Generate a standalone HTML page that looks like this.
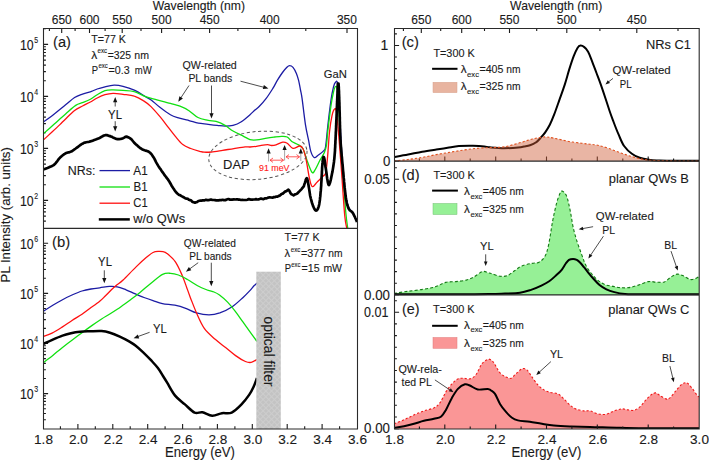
<!DOCTYPE html>
<html><head><meta charset="utf-8"><style>
html,body{margin:0;padding:0;background:#fff;}
svg{display:block;font-family:"Liberation Sans", sans-serif;}
</style></head><body>
<svg width="709" height="461" viewBox="0 0 709 461">
<defs><pattern id="hatch" width="4" height="4" patternUnits="userSpaceOnUse" patternTransform="rotate(45)"><rect width="4" height="4" fill="#c3c3c3"/><rect width="1" height="4" fill="#cdcdcd"/><rect width="4" height="1" fill="#cdcdcd"/></pattern><clipPath id="cA"><rect x="43" y="28" width="314" height="200"/></clipPath><clipPath id="cB"><rect x="43" y="228" width="314" height="201"/></clipPath><clipPath id="cR"><rect x="394" y="28" width="305" height="401"/></clipPath></defs>
<rect width="709" height="461" fill="#fff"/>
<path d="M60.4,429 L60.4,426.3 M77.9,429 L77.9,424.1 M95.3,429 L95.3,426.3 M112.8,429 L112.8,424.1 M130.2,429 L130.2,426.3 M147.7,429 L147.7,424.1 M165.1,429 L165.1,426.3 M182.6,429 L182.6,424.1 M200,429 L200,426.3 M217.4,429 L217.4,424.1 M234.9,429 L234.9,426.3 M252.3,429 L252.3,424.1 M269.8,429 L269.8,426.3 M287.2,429 L287.2,424.1 M304.7,429 L304.7,426.3 M322.1,429 L322.1,424.1 M339.6,429 L339.6,426.3 M347,28.5 L347,33.1 M305.8,28.5 L305.8,30.9 M269.7,28.5 L269.7,33.1 M237.9,28.5 L237.9,30.9 M209.6,28.5 L209.6,33.1 M184.3,28.5 L184.3,30.9 M161.6,28.5 L161.6,33.1 M141,28.5 L141,30.9 M122.2,28.5 L122.2,33.1 M105.1,28.5 L105.1,30.9 M89.5,28.5 L89.5,33.1 M75.1,28.5 L75.1,30.9 M61.7,28.5 L61.7,33.1 M49.4,28.5 L49.4,30.9 M43.5,221.1 L45.9,221.1 M43.5,216.1 L45.9,216.1 M43.5,211.9 L45.9,211.9 M43.5,208.5 L45.9,208.5 M43.5,205.4 L45.9,205.4 M43.5,202.8 L45.9,202.8 M43.5,200.4 L48.1,200.4 M43.5,184.7 L45.9,184.7 M43.5,175.6 L45.9,175.6 M43.5,169.1 L45.9,169.1 M43.5,164.1 L45.9,164.1 M43.5,159.9 L45.9,159.9 M43.5,156.5 L45.9,156.5 M43.5,153.4 L45.9,153.4 M43.5,150.8 L45.9,150.8 M43.5,148.4 L48.1,148.4 M43.5,132.7 L45.9,132.7 M43.5,123.6 L45.9,123.6 M43.5,117.1 L45.9,117.1 M43.5,112.1 L45.9,112.1 M43.5,107.9 L45.9,107.9 M43.5,104.5 L45.9,104.5 M43.5,101.4 L45.9,101.4 M43.5,98.8 L45.9,98.8 M43.5,96.4 L48.1,96.4 M43.5,80.7 L45.9,80.7 M43.5,71.6 L45.9,71.6 M43.5,65.1 L45.9,65.1 M43.5,60.1 L45.9,60.1 M43.5,55.9 L45.9,55.9 M43.5,52.5 L45.9,52.5 M43.5,49.4 L45.9,49.4 M43.5,46.8 L45.9,46.8 M43.5,44.4 L48.1,44.4 M43.5,28.7 L45.9,28.7 M43.5,419.8 L45.9,419.8 M43.5,413.5 L45.9,413.5 M43.5,408.7 L45.9,408.7 M43.5,404.7 L45.9,404.7 M43.5,401.4 L45.9,401.4 M43.5,398.5 L45.9,398.5 M43.5,395.9 L45.9,395.9 M43.5,393.6 L48.1,393.6 M43.5,378.5 L45.9,378.5 M43.5,369.7 L45.9,369.7 M43.5,363.4 L45.9,363.4 M43.5,358.6 L45.9,358.6 M43.5,354.6 L45.9,354.6 M43.5,351.3 L45.9,351.3 M43.5,348.4 L45.9,348.4 M43.5,345.8 L45.9,345.8 M43.5,343.5 L48.1,343.5 M43.5,328.4 L45.9,328.4 M43.5,319.6 L45.9,319.6 M43.5,313.3 L45.9,313.3 M43.5,308.5 L45.9,308.5 M43.5,304.5 L45.9,304.5 M43.5,301.2 L45.9,301.2 M43.5,298.3 L45.9,298.3 M43.5,295.7 L45.9,295.7 M43.5,293.4 L48.1,293.4 M43.5,278.3 L45.9,278.3 M43.5,269.5 L45.9,269.5 M43.5,263.2 L45.9,263.2 M43.5,258.4 L45.9,258.4 M43.5,254.4 L45.9,254.4 M43.5,251.1 L45.9,251.1 M43.5,248.2 L45.9,248.2 M43.5,245.6 L45.9,245.6 M43.5,243.3 L48.1,243.3 M419.4,161 L419.4,158.6 M444.8,161 L444.8,156.4 M470.2,161 L470.2,158.6 M495.7,161 L495.7,156.4 M521.1,161 L521.1,158.6 M546.5,161 L546.5,156.4 M571.9,161 L571.9,158.6 M597.3,161 L597.3,156.4 M622.8,161 L622.8,158.6 M648.2,161 L648.2,156.4 M673.6,161 L673.6,158.6 M419.4,295 L419.4,292.6 M444.8,295 L444.8,290.4 M470.2,295 L470.2,292.6 M495.7,295 L495.7,290.4 M521.1,295 L521.1,292.6 M546.5,295 L546.5,290.4 M571.9,295 L571.9,292.6 M597.3,295 L597.3,290.4 M622.8,295 L622.8,292.6 M648.2,295 L648.2,290.4 M673.6,295 L673.6,292.6 M419.4,429 L419.4,426.6 M444.8,429 L444.8,424.4 M470.2,429 L470.2,426.6 M495.7,429 L495.7,424.4 M521.1,429 L521.1,426.6 M546.5,429 L546.5,424.4 M571.9,429 L571.9,426.6 M597.3,429 L597.3,424.4 M622.8,429 L622.8,426.6 M648.2,429 L648.2,424.4 M673.6,429 L673.6,426.6 M678,28.5 L678,30.9 M636.8,28.5 L636.8,33.1 M599.9,28.5 L599.9,30.9 M566.8,28.5 L566.8,33.1 M536.7,28.5 L536.7,30.9 M509.5,28.5 L509.5,33.1 M484.5,28.5 L484.5,30.9 M461.7,28.5 L461.7,33.1 M440.7,28.5 L440.7,30.9 M421.3,28.5 L421.3,33.1 M403.4,28.5 L403.4,30.9 M394.5,161 L399.1,161 M394.5,149.4 L396.9,149.4 M394.5,137.9 L396.9,137.9 M394.5,126.3 L396.9,126.3 M394.5,114.8 L396.9,114.8 M394.5,103.2 L396.9,103.2 M394.5,91.7 L396.9,91.7 M394.5,80.1 L396.9,80.1 M394.5,68.6 L396.9,68.6 M394.5,57 L396.9,57 M394.5,45.5 L399.1,45.5 M394.5,33.9 L396.9,33.9 M394.5,294.7 L399.1,294.7 M394.5,283.2 L396.9,283.2 M394.5,271.6 L396.9,271.6 M394.5,260.1 L396.9,260.1 M394.5,248.5 L396.9,248.5 M394.5,237 L396.9,237 M394.5,225.5 L396.9,225.5 M394.5,213.9 L396.9,213.9 M394.5,202.4 L396.9,202.4 M394.5,190.8 L396.9,190.8 M394.5,179.3 L399.1,179.3 M394.5,167.8 L396.9,167.8 M394.5,428.6 L399.1,428.6 M394.5,417 L396.9,417 M394.5,405.3 L396.9,405.3 M394.5,393.7 L396.9,393.7 M394.5,382.1 L396.9,382.1 M394.5,370.5 L396.9,370.5 M394.5,358.8 L396.9,358.8 M394.5,347.2 L396.9,347.2 M394.5,335.6 L396.9,335.6 M394.5,323.9 L396.9,323.9 M394.5,312.3 L399.1,312.3 M394.5,300.7 L396.9,300.7" stroke="#1a1a1a" stroke-width="1.1" fill="none"/>
<g clip-path="url(#cR)">
<path d="M394,157 C396.4,156.6 403.4,155.5 408.1,154.6 C412.8,153.7 417.5,152.5 422.2,151.7 C426.9,150.9 432.1,150.2 436.3,149.6 C440.5,148.9 443.8,148.4 447.6,147.8 C451.4,147.2 454.7,146.4 458.9,146.1 C463.1,145.8 468.8,145.7 473,145.8 C477.2,145.9 481.5,146.2 484.3,146.5 C487.1,146.8 486.7,147 490,147.3 C493.3,147.6 499.4,148.2 504.1,148.2 C508.8,148.2 514.9,147.8 518.2,147.5 C521.5,147.2 522,147 524,146.6 C526,146.2 528,146 530,145.3 C532,144.6 534.3,143.6 536.1,142.3 C537.9,141.1 539.1,139.5 540.6,137.8 C542.1,136.2 543.7,134.6 545.2,132.4 C546.7,130.2 548.3,127.8 549.8,124.8 C551.3,121.8 552.8,118.1 554.3,114.2 C555.8,110.3 557.2,106.2 558.9,101.3 C560.6,96.4 562.9,90.3 564.6,85.1 C566.3,79.9 567.6,74.7 569.1,69.9 C570.6,65.1 572.3,59.9 573.7,56.2 C575.1,52.5 576.4,49.7 577.5,47.9 C578.6,46.1 579.4,45.7 580.5,45.6 C581.6,45.5 583,46.1 584.3,47.1 C585.6,48.1 586.8,49.4 588.1,51.7 C589.4,54 590.5,57.2 591.9,60.8 C593.3,64.3 595,69 596.5,73 C598,77 599.5,80.8 601,85.1 C602.5,89.4 604.2,94.5 605.6,98.8 C607,103.1 608.3,107.1 609.6,111 C610.9,114.9 612.1,118 613.6,122 C615.1,126 617.1,131.2 618.9,135.2 C620.6,139.2 621.9,142.9 624.1,146 C626.3,149.1 629.3,151.9 631.9,153.8 C634.5,155.8 636.9,156.7 639.7,157.7 C642.6,158.7 645.6,159.2 649,159.7 C652.4,160.2 651.5,160.3 659.8,160.5 C668.1,160.7 692.5,160.8 699,160.8" fill="none" stroke="#000" stroke-width="2" stroke-linejoin="round"/>
<path d="M394,160.9 C396.4,160.7 403.4,160.1 408.1,159.5 C412.8,158.9 417.5,158.2 422.2,157.4 C426.9,156.6 431.6,155.5 436.3,154.6 C441,153.7 445.7,153 450.4,152.2 C455.1,151.4 459.8,150.6 464.5,149.9 C469.2,149.2 474,148.6 478.6,148.2 C483.2,147.8 487.8,147.7 492,147.5 C496.2,147.3 499.7,147.5 504.1,146.8 C508.5,146.1 513.5,144.6 518.2,143.3 C522.9,142 527.8,140.1 532.3,139 C536.8,137.9 541.5,137.1 545,136.9 C548.5,136.8 549.7,137.4 553.5,138.1 C557.3,138.8 562.9,140.3 567.6,141.2 C572.3,142.1 578,142.8 581.7,143.3 C585.4,143.8 587.3,143.9 590,144.2 C592.7,144.5 594.7,144.6 597.8,145.3 C600.9,146 604.7,147.1 608.6,148.4 C612.5,149.7 617.1,151.6 621,153 C624.9,154.4 628.3,155.6 631.9,156.6 C635.5,157.6 639.4,158.6 642.8,159.2 C646.2,159.8 647.6,160 652.1,160.3 C656.6,160.6 662.2,160.8 670,160.9 C677.8,161 694.2,161 699,161 L699,161 L394,161 Z" fill="#cf5a35" fill-opacity="0.45" stroke="none"/>
<path d="M394,160.9 C396.4,160.7 403.4,160.1 408.1,159.5 C412.8,158.9 417.5,158.2 422.2,157.4 C426.9,156.6 431.6,155.5 436.3,154.6 C441,153.7 445.7,153 450.4,152.2 C455.1,151.4 459.8,150.6 464.5,149.9 C469.2,149.2 474,148.6 478.6,148.2 C483.2,147.8 487.8,147.7 492,147.5 C496.2,147.3 499.7,147.5 504.1,146.8 C508.5,146.1 513.5,144.6 518.2,143.3 C522.9,142 527.8,140.1 532.3,139 C536.8,137.9 541.5,137.1 545,136.9 C548.5,136.8 549.7,137.4 553.5,138.1 C557.3,138.8 562.9,140.3 567.6,141.2 C572.3,142.1 578,142.8 581.7,143.3 C585.4,143.8 587.3,143.9 590,144.2 C592.7,144.5 594.7,144.6 597.8,145.3 C600.9,146 604.7,147.1 608.6,148.4 C612.5,149.7 617.1,151.6 621,153 C624.9,154.4 628.3,155.6 631.9,156.6 C635.5,157.6 639.4,158.6 642.8,159.2 C646.2,159.8 647.6,160 652.1,160.3 C656.6,160.6 662.2,160.8 670,160.9 C677.8,161 694.2,161 699,161" fill="none" stroke="#e0501e" stroke-width="1.1" stroke-dasharray="2.2,2"/>
<path d="M394,293.4 C396.4,293 403.8,291.9 408.7,291.2 C413.6,290.5 419.1,290 423.5,289.3 C427.9,288.6 431.6,288 435.3,286.8 C439,285.6 442.2,283.3 445.6,282.4 C449,281.5 452.4,282 455.9,281.6 C459.3,281.2 463.4,280.8 466.3,280.1 C469.2,279.4 470.9,278.6 473.6,277.2 C476.3,275.8 480,272.3 482.5,271.6 C485,270.9 486.8,272.4 488.4,272.8 C490,273.2 490.1,273.2 492,273.8 C493.9,274.4 497.3,275.9 499.8,276.2 C502.3,276.5 504.8,276.6 507.2,275.7 C509.6,274.8 512,272.4 514.5,270.8 C517,269.2 519,267.1 521.9,265.9 C524.8,264.7 528.9,264 531.7,263.4 C534.6,262.8 536.8,263.4 539,262.2 C541.2,261 543.5,259.2 545.1,256.1 C546.7,253 547.6,249.5 548.8,243.8 C550,238.1 551.3,228.3 552.5,221.8 C553.7,215.3 555,209.3 556.2,204.6 C557.4,199.9 558.9,195.8 559.9,193.6 C560.9,191.3 561.3,190.9 562.3,191.1 C563.3,191.3 565,193 566,194.8 C567,196.7 567.6,198.9 568.4,202.2 C569.2,205.5 570.1,210.1 570.9,214.4 C571.7,218.7 572.3,223.4 573.3,227.9 C574.3,232.4 575.7,237.2 577,241.4 C578.3,245.6 579.9,249.5 581.1,253 C582.4,256.5 583.4,259.5 584.5,262.2 C585.6,264.9 586.6,267 588,269.1 C589.4,271.2 590.9,273 592.6,274.9 C594.3,276.8 596.2,279 598.3,280.6 C600.4,282.2 602.7,283.7 605.2,284.7 C607.7,285.7 610.8,285.9 613.3,286.4 C615.8,286.9 617.4,287.4 620,287.6 C622.6,287.8 625.7,288 628.8,287.6 C631.9,287.2 635.2,286.1 638.5,285.1 C641.8,284.1 645.3,282.1 648.3,281.6 C651.3,281.1 653.7,282.1 656.4,282.2 C659.1,282.2 662.1,282.8 664.5,281.9 C666.9,281 668.8,278.3 671,277 C673.2,275.7 675.3,274.2 677.5,274.1 C679.7,274 681.9,275.3 684,276.2 C686.1,277.1 688.5,279.1 690.4,279.5 C692.3,279.9 693.9,279.2 695.3,278.7 C696.7,278.2 698.4,276.9 699,276.5 L699,295 L394,295 Z" fill="#96f096" stroke="none"/>
<path d="M394,293.4 C396.4,293 403.8,291.9 408.7,291.2 C413.6,290.5 419.1,290 423.5,289.3 C427.9,288.6 431.6,288 435.3,286.8 C439,285.6 442.2,283.3 445.6,282.4 C449,281.5 452.4,282 455.9,281.6 C459.3,281.2 463.4,280.8 466.3,280.1 C469.2,279.4 470.9,278.6 473.6,277.2 C476.3,275.8 480,272.3 482.5,271.6 C485,270.9 486.8,272.4 488.4,272.8 C490,273.2 490.1,273.2 492,273.8 C493.9,274.4 497.3,275.9 499.8,276.2 C502.3,276.5 504.8,276.6 507.2,275.7 C509.6,274.8 512,272.4 514.5,270.8 C517,269.2 519,267.1 521.9,265.9 C524.8,264.7 528.9,264 531.7,263.4 C534.6,262.8 536.8,263.4 539,262.2 C541.2,261 543.5,259.2 545.1,256.1 C546.7,253 547.6,249.5 548.8,243.8 C550,238.1 551.3,228.3 552.5,221.8 C553.7,215.3 555,209.3 556.2,204.6 C557.4,199.9 558.9,195.8 559.9,193.6 C560.9,191.3 561.3,190.9 562.3,191.1 C563.3,191.3 565,193 566,194.8 C567,196.7 567.6,198.9 568.4,202.2 C569.2,205.5 570.1,210.1 570.9,214.4 C571.7,218.7 572.3,223.4 573.3,227.9 C574.3,232.4 575.7,237.2 577,241.4 C578.3,245.6 579.9,249.5 581.1,253 C582.4,256.5 583.4,259.5 584.5,262.2 C585.6,264.9 586.6,267 588,269.1 C589.4,271.2 590.9,273 592.6,274.9 C594.3,276.8 596.2,279 598.3,280.6 C600.4,282.2 602.7,283.7 605.2,284.7 C607.7,285.7 610.8,285.9 613.3,286.4 C615.8,286.9 617.4,287.4 620,287.6 C622.6,287.8 625.7,288 628.8,287.6 C631.9,287.2 635.2,286.1 638.5,285.1 C641.8,284.1 645.3,282.1 648.3,281.6 C651.3,281.1 653.7,282.1 656.4,282.2 C659.1,282.2 662.1,282.8 664.5,281.9 C666.9,281 668.8,278.3 671,277 C673.2,275.7 675.3,274.2 677.5,274.1 C679.7,274 681.9,275.3 684,276.2 C686.1,277.1 688.5,279.1 690.4,279.5 C692.3,279.9 693.9,279.2 695.3,278.7 C696.7,278.2 698.4,276.9 699,276.5" fill="none" stroke="#147a14" stroke-width="1.1" stroke-dasharray="3,2.2"/>
<path d="M394,294.3 C405,294.3 444,294.3 460,294.3 C476,294.3 482.5,294.2 490,294.1 C497.5,294 500,293.8 505,293.6 C510,293.4 515.8,293.3 520,292.7 C524.2,292.1 526.9,291.2 530.4,290.1 C533.9,289 537.7,287.4 540.8,285.9 C543.9,284.4 546.6,283.1 549.2,281.3 C551.8,279.5 554.4,276.9 556.5,275 C558.6,273.1 560.2,271.7 561.7,269.8 C563.2,267.9 564.6,265.1 565.8,263.5 C567,261.9 567.8,260.7 569,259.9 C570.2,259.1 571.8,258.9 573.1,258.9 C574.4,258.9 575.6,259.3 576.8,259.9 C577.9,260.5 578.8,261.3 580,262.5 C581.2,263.7 582.7,265.6 584,267.2 C585.3,268.8 586.4,270.3 588,272.3 C589.6,274.3 591.8,276.9 593.7,279 C595.6,281.1 597.4,283.3 599.5,285 C601.6,286.7 603.9,288.1 606.4,289.3 C608.9,290.5 611.3,291.3 614.4,292.1 C617.5,292.9 620.7,293.6 625,294 C629.3,294.4 627.7,294.2 640,294.3 C652.3,294.4 689.2,294.3 699,294.3" fill="none" stroke="#000" stroke-width="2" stroke-linejoin="round"/>
<path d="M394,423.8 C395.7,423.1 400.7,421.3 404,419.8 C407.3,418.3 410.7,416.4 414,414.9 C417.3,413.4 420.6,412.1 423.9,410.9 C427.2,409.7 431.2,409.2 433.9,407.9 C436.6,406.6 437.9,405.6 439.9,402.9 C441.9,400.2 443.9,395.1 445.9,391.9 C447.9,388.7 449.9,386.1 451.9,383.9 C453.9,381.7 455.9,379.8 457.9,378.9 C459.9,378 461.9,378.3 463.9,378.3 C465.9,378.3 467.8,379.5 469.8,378.9 C471.8,378.3 473.8,377.4 475.8,374.9 C477.8,372.4 479.8,366.6 481.8,364 C483.8,361.4 486.3,360.1 487.8,359.4 C489.3,358.7 490,359.4 491,360 C492,360.6 492.5,360.9 494,363 C495.5,365.1 498,370.6 500,372.9 C502,375.2 504.2,376 506,376.9 C507.8,377.8 509.4,378.8 511,378.3 C512.6,377.8 514.1,375.5 515.9,373.9 C517.7,372.3 520.1,369.6 521.9,368.9 C523.7,368.2 525.2,368.6 526.9,369.9 C528.6,371.2 530.1,374.4 531.9,376.9 C533.7,379.4 535.9,382.7 537.9,384.9 C539.9,387.1 541.9,388.7 543.9,389.9 C545.9,391.1 547.6,391.6 549.9,392.3 C552.2,393 555.6,392.8 557.9,393.9 C560.2,395 561.9,397.1 563.9,398.9 C565.9,400.7 567.8,403.2 569.8,404.9 C571.8,406.6 573.5,407.9 575.8,408.9 C578.1,409.9 581.4,410.6 583.8,410.9 C586.2,411.2 587.6,410.4 590,410.9 C592.4,411.4 595.3,413.3 598,413.9 C600.7,414.5 603.3,414.8 606,414.3 C608.7,413.8 611.4,411.8 614,410.9 C616.6,410 619.6,409.1 621.9,408.9 C624.2,408.7 625.9,409.7 627.9,409.9 C629.9,410.1 631.9,410.8 633.9,410.3 C635.9,409.8 637.9,408.6 639.9,406.9 C641.9,405.2 643.9,402 645.9,399.9 C647.9,397.8 650.2,395.5 651.9,394.3 C653.6,393.1 654.6,392.7 655.9,392.9 C657.2,393.1 658.2,394.5 659.9,395.5 C661.6,396.5 664.2,398.5 665.9,398.9 C667.6,399.3 668.2,399.2 669.9,397.9 C671.5,396.6 673.8,393.2 675.8,390.9 C677.8,388.6 680,385.6 681.8,384.3 C683.6,383 685.1,382.3 686.8,382.9 C688.5,383.5 690.1,385.9 691.8,387.9 C693.5,389.9 695.6,393.4 696.8,394.9 C698,396.4 698.6,396.6 699,396.9 L699,429 L394,429 Z" fill="#fa9696" stroke="none"/>
<path d="M394,423.8 C395.7,423.1 400.7,421.3 404,419.8 C407.3,418.3 410.7,416.4 414,414.9 C417.3,413.4 420.6,412.1 423.9,410.9 C427.2,409.7 431.2,409.2 433.9,407.9 C436.6,406.6 437.9,405.6 439.9,402.9 C441.9,400.2 443.9,395.1 445.9,391.9 C447.9,388.7 449.9,386.1 451.9,383.9 C453.9,381.7 455.9,379.8 457.9,378.9 C459.9,378 461.9,378.3 463.9,378.3 C465.9,378.3 467.8,379.5 469.8,378.9 C471.8,378.3 473.8,377.4 475.8,374.9 C477.8,372.4 479.8,366.6 481.8,364 C483.8,361.4 486.3,360.1 487.8,359.4 C489.3,358.7 490,359.4 491,360 C492,360.6 492.5,360.9 494,363 C495.5,365.1 498,370.6 500,372.9 C502,375.2 504.2,376 506,376.9 C507.8,377.8 509.4,378.8 511,378.3 C512.6,377.8 514.1,375.5 515.9,373.9 C517.7,372.3 520.1,369.6 521.9,368.9 C523.7,368.2 525.2,368.6 526.9,369.9 C528.6,371.2 530.1,374.4 531.9,376.9 C533.7,379.4 535.9,382.7 537.9,384.9 C539.9,387.1 541.9,388.7 543.9,389.9 C545.9,391.1 547.6,391.6 549.9,392.3 C552.2,393 555.6,392.8 557.9,393.9 C560.2,395 561.9,397.1 563.9,398.9 C565.9,400.7 567.8,403.2 569.8,404.9 C571.8,406.6 573.5,407.9 575.8,408.9 C578.1,409.9 581.4,410.6 583.8,410.9 C586.2,411.2 587.6,410.4 590,410.9 C592.4,411.4 595.3,413.3 598,413.9 C600.7,414.5 603.3,414.8 606,414.3 C608.7,413.8 611.4,411.8 614,410.9 C616.6,410 619.6,409.1 621.9,408.9 C624.2,408.7 625.9,409.7 627.9,409.9 C629.9,410.1 631.9,410.8 633.9,410.3 C635.9,409.8 637.9,408.6 639.9,406.9 C641.9,405.2 643.9,402 645.9,399.9 C647.9,397.8 650.2,395.5 651.9,394.3 C653.6,393.1 654.6,392.7 655.9,392.9 C657.2,393.1 658.2,394.5 659.9,395.5 C661.6,396.5 664.2,398.5 665.9,398.9 C667.6,399.3 668.2,399.2 669.9,397.9 C671.5,396.6 673.8,393.2 675.8,390.9 C677.8,388.6 680,385.6 681.8,384.3 C683.6,383 685.1,382.3 686.8,382.9 C688.5,383.5 690.1,385.9 691.8,387.9 C693.5,389.9 695.6,393.4 696.8,394.9 C698,396.4 698.6,396.6 699,396.9" fill="none" stroke="#f01818" stroke-width="1.1" stroke-dasharray="2.2,2"/>
<path d="M394,427.8 C395.7,427.5 400.7,426.9 404,426.2 C407.3,425.5 410.7,424.7 414,423.8 C417.3,422.9 420.6,421.6 423.9,420.8 C427.2,420 431.1,419.5 433.9,418.8 C436.7,418.1 438.9,418.3 440.9,416.8 C442.9,415.3 444.1,413 445.9,409.9 C447.7,406.8 449.9,401.4 451.9,397.9 C453.9,394.4 455.7,391.2 457.9,388.9 C460.1,386.6 462.9,384.9 464.9,384.3 C466.9,383.7 467.6,384.6 469.8,385.5 C472,386.4 474.8,388.9 477.8,389.5 C480.8,390.1 485.6,388.7 487.8,388.9 C490,389.1 489.8,389.7 491,390.5 C492.2,391.3 493.5,391.7 495,393.9 C496.5,396.1 498.2,400.9 500,403.9 C501.8,406.9 504,409.6 506,411.9 C508,414.2 510,416.4 512,417.8 C514,419.2 514.9,419.7 517.9,420.4 C520.9,421.1 525.9,421.2 529.9,421.8 C533.9,422.4 537.9,423.2 541.9,423.8 C545.9,424.4 549.2,425 553.9,425.4 C558.5,425.8 563.8,426.1 569.8,426.4 C575.8,426.6 581.6,426.7 590,426.9 C598.4,427.1 610,427.6 620,427.8 C630,428 636.8,428.2 650,428.3 C663.2,428.4 690.8,428.3 699,428.3" fill="none" stroke="#000" stroke-width="2" stroke-linejoin="round"/>
</g>
<path d="M419.4,429 L419.4,426.6 M444.8,429 L444.8,424.4 M470.2,429 L470.2,426.6 M495.7,429 L495.7,424.4 M521.1,429 L521.1,426.6 M546.5,429 L546.5,424.4 M571.9,429 L571.9,426.6 M597.3,429 L597.3,424.4 M622.8,429 L622.8,426.6 M648.2,429 L648.2,424.4 M673.6,429 L673.6,426.6" stroke="#1a1a1a" stroke-width="1.1" fill="none"/>
<g clip-path="url(#cA)" fill="none" stroke-linejoin="round">
<path d="M43,122.3 C44.9,120.9 50.5,116.8 54.3,113.9 C58.1,111 62.2,107.5 65.6,104.8 C69,102.1 71.8,99.3 74.6,97.5 C77.4,95.7 79.7,95.1 82.5,94.1 C85.3,93.1 89,92.1 91.5,91.3 C94,90.5 95,89.8 97.2,89 C99.5,88.2 102.2,87.5 105,86.8 C107.8,86.1 111.1,85.2 114.1,85.1 C117.1,85 119.6,85.4 123,86.3 C126.4,87.2 130.5,88.5 134.3,90.2 C138.1,91.9 142.7,95 145.6,96.7 C148.5,98.4 149.1,98.4 151.5,100.2 C153.9,102 157,105.2 160.2,107.6 C163.3,110 167.2,113 170.4,114.7 C173.6,116.5 176.3,117.1 179.4,118.1 C182.5,119.1 185.8,119.8 189,120.6 C192.2,121.4 195.1,122.6 198.3,123.2 C201.5,123.8 205,123.9 208.2,124.3 C211.3,124.7 214.4,125.1 217.2,125.4 C220,125.7 222.5,126.2 225.1,126.2 C227.7,126.2 230.4,126.1 233,125.4 C235.6,124.7 238.1,123.8 240.9,122 C243.7,120.2 247.7,116.7 250,114.7 C252.3,112.7 253.4,111.4 255,110 C256.6,108.6 257.5,108.2 259.4,106.3 C261.3,104.4 263.9,101.4 266.2,98.4 C268.5,95.4 271.1,91.2 273,88.2 C274.9,85.2 275.7,83 277.3,80.4 C278.9,77.8 280.9,74.7 282.5,72.5 C284.1,70.3 285.7,68.5 286.9,67.3 C288.1,66.1 288.5,65.6 289.5,65.6 C290.5,65.6 291.9,66 293,67.3 C294.1,68.6 295.5,71.2 296.4,73.4 C297.3,75.6 297.9,77.6 298.6,80.4 C299.3,83.2 299.9,87 300.5,90 C301.1,93 301.3,92.9 302.1,98.6 C302.9,104.3 304.3,117.2 305.4,124.3 C306.5,131.3 307.8,136.4 308.7,140.9 C309.6,145.4 309.9,148.6 310.8,151.4 C311.7,154.2 313,157 314.3,157.6 C315.6,158.2 316.8,156.1 318.4,155 C319.9,153.9 322.4,152.2 323.6,150.8 C324.8,149.4 324.9,150.9 325.6,146.6 C326.3,142.3 327,132.9 327.9,125 C328.8,117.1 330.2,105.7 331.1,99.4 C332,93.1 332.8,89.8 333.5,87 C334.2,84.2 334.8,83 335.5,82.3 C336.2,81.6 336.9,80 337.5,83 C338.1,86 338.4,90.5 339,100 C339.6,109.5 340.3,128.3 341,140 C341.7,151.7 342.2,160.5 343,170 C343.8,179.5 345,190.7 346,197 C347,203.3 347.8,205.3 349,208 C350.2,210.7 351.7,210.7 353,213 C354.3,215.3 356.3,220.5 357,222" stroke="#1c1ca4" stroke-width="1.3"/>
<path d="M43,134.1 C44.9,132.4 50.5,127.4 54.3,124 C58.1,120.6 62,117 65.6,113.9 C69.2,110.8 72.9,107.3 75.7,105.4 C78.5,103.5 80,103.6 82.5,102.6 C85,101.6 88,100.5 90.4,99.2 C92.9,97.9 94.8,96.1 97.2,94.7 C99.6,93.3 102.4,91.5 105,90.7 C107.6,89.9 110,90 113,89.9 C116,89.9 119.5,90.1 123,90.4 C126.5,90.7 130.5,90.5 134.3,91.6 C138.1,92.6 141.8,95.3 145.6,96.7 C149.4,98.1 152.8,98.7 156.9,99.8 C161,100.9 166.6,102.3 170.4,103.4 C174.2,104.5 176.9,105 180,106.2 C183.1,107.4 186,108.8 189,110.7 C192,112.6 194.8,115.9 198,117.5 C201.2,119.1 205.2,119.6 208.2,120.3 C211.2,121 213.3,120.6 216.1,121.4 C218.9,122.2 222.3,123.8 225.1,125.4 C227.9,127 230,129.2 233,131 C236,132.8 240.4,134.7 243.2,136.1 C246,137.5 247.8,139 250,139.6 C252.2,140.2 253.8,140.2 256.6,139.9 C259.4,139.7 263.8,138.6 266.9,138.1 C270,137.6 272.6,137.3 275,137 C277.4,136.7 279.6,136.4 281.6,136.4 C283.6,136.4 285.5,136.2 287.2,137 C288.9,137.8 289.9,140.2 291.8,141.5 C293.7,142.8 296.6,143.7 298.5,144.9 C300.4,146.1 301.5,146 303,148.8 C304.5,151.7 306.1,158.1 307.6,162 C309.1,165.9 310.9,171.3 312.2,172.5 C313.5,173.7 314.2,171.2 315.5,169.1 C316.8,167 318.5,162.9 320,160.1 C321.5,157.3 323.4,154.7 324.5,152.2 C325.6,149.7 325.9,148.7 326.5,145 C327.1,141.3 327.1,136.7 327.9,130 C328.7,123.3 330.2,111.3 331.1,105 C332,98.7 332.8,95.1 333.5,92 C334.2,88.9 334.9,86.8 335.6,86.5 C336.3,86.2 336.9,86.1 337.5,90 C338.1,93.9 338.6,101.7 339,110 C339.4,118.3 339.5,129.3 340.1,140 C340.8,150.7 341.9,162.2 342.9,174.3 C343.8,186.4 345,203.6 345.8,212.5 C346.6,221.4 347.4,225.4 347.7,228" stroke="#10e010" stroke-width="1.3"/>
<path d="M43,140.3 C44.5,138.9 49.2,134.6 52,132 C54.8,129.4 57.6,126.8 59.9,124.6 C62.2,122.4 63.1,121.2 65.6,118.9 C68,116.6 71.8,112.7 74.6,110.5 C77.4,108.3 79.9,107.4 82.5,106 C85.1,104.6 88,103.3 90.4,102 C92.9,100.7 94.8,99.2 97.2,98 C99.6,96.8 102.4,95.5 105,94.7 C107.6,93.9 110,93.4 113,93.3 C116,93.2 119.5,93.8 123,94.3 C126.5,94.8 130.9,95 134.3,96.1 C137.7,97.1 140.5,98.8 143.3,100.6 C146.1,102.3 148.2,103.9 151,106.6 C153.8,109.3 157.3,113.5 160.2,116.9 C163,120.3 165.5,123.7 168.1,127.1 C170.7,130.5 173.6,134.3 176,137.2 C178.4,140.1 180.4,142.7 182.8,144.6 C185.2,146.5 187.9,147.4 190.7,148.5 C193.5,149.6 197.5,150.7 199.7,151.3 C201.9,151.9 202.1,152.1 204,152.2 C205.9,152.3 208.2,152.3 211.3,152 C214.4,151.7 218.8,150.9 222.6,150.3 C226.4,149.7 230.2,149.2 233.9,148.6 C237.7,148 242.4,147.2 245.1,146.9 C247.8,146.6 248.1,147.1 250,147 C251.9,146.9 254.5,146.7 256.4,146.4 C258.3,146.1 259.4,145.7 261.3,145.4 C263.2,145.1 266,144.7 267.7,144.7 C269.4,144.7 270.1,145.5 271.5,145.5 C272.9,145.5 274.1,145.5 276,144.9 C277.9,144.3 280.8,142.4 282.7,142.1 C284.6,141.8 285.5,142.2 287.2,143.2 C288.9,144.2 290.8,147.8 292.9,148.3 C295,148.8 298,145.9 299.7,146 C301.4,146.1 301.9,146.6 303,148.8 C304.1,151 304.9,154 306,159 C307.1,164 308.5,174.4 309.6,179 C310.7,183.6 311.1,186.2 312.4,186.7 C313.7,187.2 315.4,183.7 317.2,182 C318.9,180.3 321.5,177.9 322.9,176.3 C324.3,174.7 325,175.9 325.8,172.4 C326.6,168.9 327.1,162 327.7,155.3 C328.3,148.6 328.8,138.6 329.5,132 C330.2,125.4 331.2,119.5 332,115.7 C332.8,111.9 333.6,109.8 334.4,109.2 C335.1,108.6 335.7,106.9 336.5,112 C337.3,117.1 338.2,129 339.1,140 C340,151 341.1,165.5 342,178.2 C342.9,190.9 344,208 344.8,216.3 C345.6,224.6 346.4,226.1 346.7,228" stroke="#ff1010" stroke-width="1.3"/>
<path d="M43,169.6 L43.8,169.3 L44.8,168.9 L46.1,168.4 L47.4,167.9 L48.6,167.4 L49.7,166.9 L50.9,166.5 L52,166 L53.2,165.4 L54.3,164.6 L55.1,163.8 L55.9,162.9 L56.7,161.8 L57.5,160.8 L58.3,159.7 L59.1,158.7 L59.9,157.8 L60.8,156.9 L61.8,156 L62.8,155.2 L63.7,154.5 L64.7,153.9 L65.6,153.3 L67,152.7 L68.4,152.4 L69.8,152.1 L71.2,151.6 L72.3,151 L73.4,150.2 L74.5,149.3 L75.7,148.5 L76.9,147.6 L78,146.8 L79.1,146 L80.2,145.2 L81.3,144.4 L82.5,143.7 L83.6,143.1 L84.9,142.6 L86.3,142.3 L87.6,142 L89,141.8 L90.4,141.4 L91.7,141 L93,140.6 L94.3,140.1 L95.7,139.6 L97,139.1 L98.3,138.6 L99.5,138 L100.7,137.3 L101.8,136.7 L103,136 L104,135.5 L105.1,135.2 L106.6,135.1 L107.9,135.4 L109.2,135.9 L110.7,136.4 L111.8,136.8 L112.9,137.4 L114.1,137.9 L115.3,138.5 L116.4,138.9 L117.5,139.2 L119,139.2 L120.5,139 L121.8,138.6 L123,138.2 L124.2,137.6 L125.3,136.9 L126.4,136.7 L127.5,136.9 L128.6,137.4 L129.8,138.1 L130.9,138.9 L131.7,139.6 L132.4,140.5 L133.2,141.5 L134,142.5 L135,143.5 L135.8,144.3 L136.8,145.1 L137.8,146 L138.8,146.9 L139.9,147.8 L141,148.5 L142,149.2 L143.2,149.8 L144.5,150.3 L145.7,150.6 L146.9,151 L148.1,151.4 L149.1,152 L150.1,152.8 L151,153.7 L151.8,154.6 L152.5,155.7 L153.3,156.9 L153.9,157.8 L154.5,158.9 L155,160 L155.6,161.1 L156.2,162.3 L156.8,163.4 L157.5,164.6 L158.1,165.6 L158.8,166.7 L159.5,167.8 L160.3,168.8 L161,169.9 L161.7,171 L162.5,172.1 L163.2,173.1 L164,174.2 L164.8,175.4 L165.7,176.5 L166.5,177.6 L167.3,178.7 L168.1,179.7 L168.8,180.8 L169.6,182 L170.3,183.3 L171,184.5 L171.6,185.7 L172.3,186.8 L173,187.9 L173.8,189.1 L174.6,190.3 L175.4,191.4 L176.3,192.5 L177.3,193.5 L178.3,194.3 L179.5,195.1 L180.7,195.6 L182,196.4 L183.2,197 L184.3,197.7 L185.5,198.5 L186.7,198.6 L187.8,198.8 L188.9,199.8 L190,200.1 L191.3,200.6 L192.4,201.9 L193.7,202.2 L195,202.7 L196.1,202.3 L197.2,201.9 L198.4,201 L199.8,200.7 L201.6,200.6 L202.6,200.4 L203.6,200.4 L204.7,200.4 L205.9,199.8 L207.1,200.1 L208.3,200.1 L209.6,199.9 L211,199.5 L212.3,200 L213.7,200 L215.1,200.1 L216.2,200.3 L217.4,200.3 L218.7,200.4 L220,200 L221.3,200.1 L222.6,199.8 L223.9,200.1 L225.3,200.2 L226.6,199.5 L227.8,199.2 L229,199.1 L230.1,199.7 L231.2,199.6 L232.1,199.6 L233.9,199.4 L235.3,199.5 L236.5,199.4 L237.6,199.4 L238.7,199.6 L240,199.7 L241.1,200 L242.3,199.9 L243.6,200 L244.8,200 L246.1,200 L247.4,199.7 L248.7,199.1 L249.9,199.4 L251.1,199.7 L252.4,199.7 L253.6,199.5 L254.8,199.5 L256,199.1 L257.2,199.5 L258.5,199.4 L259.7,199 L260.9,198.5 L262.2,198.9 L263.5,199.1 L264.8,198.3 L266,198.4 L267.3,198 L268.5,197.5 L269.6,197.3 L271.1,197.5 L272.5,197.7 L273.9,197 L275.2,197.1 L276.4,196.6 L277.5,196.7 L278.8,195.9 L279.7,195.6 L280.5,195 L281.5,194 L282.7,193.6 L284.1,192.4 L285.4,191.4 L286.4,191.1 L288.4,189.7 L289.1,190.4 L289.8,191.7 L290.6,193.3 L291.5,194.2 L292.3,194.6 L293.6,195.3 L295,194.4 L296.3,194 L297.2,193.6 L298.2,192.5 L299.1,191.6 L300,190.6 L300.8,189.9 L301.6,189.1 L302.3,188.1 L303.1,187.1 L303.8,186.3 L304.3,184.5 L304.9,182.9 L305.4,181.2 L305.8,179.7 L306.3,178.6 L306.7,178.2 L307.1,178.5 L307.4,179.5 L307.7,180.8 L308,182.4 L308.3,184.1 L308.6,185.8 L308.8,186.9 L309,188.1 L309.2,189.4 L309.4,190.7 L309.6,192 L309.8,193.4 L310,194.7 L310.2,196 L310.5,197.2 L310.8,198.5 L311.2,199.9 L311.5,201.2 L311.9,202.5 L312.3,203.7 L312.7,204.9 L313,205.9 L313.4,206.8 L314.3,208.8 L315.3,210.3 L316.2,210.6 L316.8,210.3 L317.4,209.6 L318,208.5 L318.6,206.9 L319.1,204.9 L319.3,204 L319.4,203.1 L319.6,202.1 L319.7,201 L319.9,199.9 L320,198.7 L320.1,197.5 L320.3,196.2 L320.4,194.9 L320.5,193.5 L320.6,192.1 L320.8,190.7 L320.9,189.2 L321,187.7 L321.1,186.6 L321.2,185.4 L321.2,184.2 L321.3,182.9 L321.4,181.6 L321.5,180.2 L321.6,178.8 L321.6,177.4 L321.7,176 L321.8,174.6 L321.9,173.2 L321.9,171.8 L322,170.5 L322.1,169.2 L322.1,167.9 L322.2,166.8 L322.3,165.7 L322.4,164.6 L322.4,163.7 L322.5,162.9 L322.8,159.7 L323.2,157.8 L323.5,157 L323.9,157.2 L324.1,157.7 L324.3,158.5 L324.5,159.6 L324.7,160.8 L324.9,162.3 L325.1,163.8 L325.3,165.4 L325.5,167 L325.8,168.6 L326,169.8 L326.2,171.1 L326.4,172.5 L326.6,174 L326.8,175.6 L327,177.2 L327.2,178.7 L327.5,180.1 L327.7,181.5 L327.9,182.6 L328.2,183.6 L328.4,184.4 L328.6,184.8 L329,185 L329.4,184.4 L329.8,183.3 L330.3,181.8 L330.7,180.1 L331.1,178.2 L331.5,176.3 L331.7,175.3 L331.9,174.3 L332.1,173.2 L332.4,172.1 L332.6,170.9 L332.8,169.6 L333,168.4 L333.2,167.1 L333.4,165.7 L333.6,164.4 L333.8,163.1 L334,161.7 L334.1,160.4 L334.3,159.1 L334.4,157.9 L334.5,156.7 L334.6,155.5 L334.7,154.3 L334.8,153.1 L334.9,151.9 L335,150.7 L335,149.4 L335.1,148.2 L335.2,146.9 L335.2,145.6 L335.3,144.2 L335.4,142.9 L335.4,141.4 L335.5,140 L335.6,138.9 L335.6,137.7 L335.7,136.5 L335.7,135.3 L335.8,134 L335.8,132.8 L335.9,131.5 L336,130.2 L336,128.9 L336.1,127.6 L336.1,126.2 L336.2,124.9 L336.2,123.6 L336.3,122.3 L336.3,121 L336.4,119.8 L336.5,118.5 L336.5,117.3 L336.6,116.1 L336.6,115 L336.7,113.6 L336.7,112.2 L336.8,110.8 L336.8,109.4 L336.9,108.1 L336.9,106.8 L337,105.4 L337,104.2 L337.1,102.9 L337.1,101.7 L337.2,100.5 L337.2,99.3 L337.3,98.2 L337.3,97.1 L337.4,96 L337.4,95 L337.5,93.3 L337.5,91.7 L337.6,90.1 L337.6,88.7 L337.7,87.4 L337.7,86.2 L337.8,85.1 L337.8,84.2 L337.9,83.5 L338.5,83.5 L338.6,84.2 L338.6,85.1 L338.7,86.2 L338.8,87.4 L338.8,88.7 L338.9,90.1 L339,91.7 L339,93.3 L339.1,95 L339.1,96 L339.2,97.1 L339.2,98.2 L339.2,99.3 L339.3,100.5 L339.3,101.7 L339.4,102.9 L339.4,104.2 L339.4,105.4 L339.5,106.8 L339.5,108.1 L339.5,109.4 L339.6,110.8 L339.6,112.2 L339.7,113.6 L339.7,115 L339.7,116.1 L339.8,117.3 L339.8,118.4 L339.8,119.6 L339.8,120.8 L339.9,122 L339.9,123.2 L339.9,124.5 L340,125.7 L340,127 L340,128.2 L340.1,129.5 L340.1,130.8 L340.1,132.1 L340.2,133.4 L340.2,134.7 L340.3,136 L340.4,137.3 L340.4,138.7 L340.5,140 L340.6,141.2 L340.6,142.4 L340.7,143.6 L340.8,144.8 L340.9,146 L341,147.2 L341.1,148.4 L341.2,149.7 L341.3,150.9 L341.4,152.2 L341.5,153.4 L341.6,154.7 L341.7,156 L341.9,157.2 L342,158.5 L342.1,159.8 L342.2,161 L342.3,162.3 L342.4,163.6 L342.6,164.8 L342.7,166.1 L342.8,167.4 L342.9,168.6 L343,169.9 L343.1,171.1 L343.3,172.5 L343.4,173.8 L343.5,175.1 L343.6,176.5 L343.7,177.9 L343.9,179.2 L344,180.6 L344.1,181.9 L344.3,183.3 L344.4,184.6 L344.5,186 L344.6,187.2 L344.8,188.5 L344.9,189.8 L345,191 L345.2,192.1 L345.3,193.2 L345.4,194.3 L345.5,195.3 L345.7,196.3 L345.8,197.2 L346.1,199.3 L346.4,201.1 L346.7,202.6 L347,203.9 L347.3,205.1 L347.7,206.1 L348,207 L348.3,207.9 L348.7,208.7 L349.6,210.1 L350.5,210.8 L351.5,211.5 L352.5,212.5 L353.1,213.4 L353.7,214.6 L354.3,215.8 L354.9,217 L355.4,218.2 L355.9,219.3 L356.3,220.1 L357,222" stroke="#000" stroke-width="2.7"/>
</g>
<g clip-path="url(#cB)" fill="none" stroke-linejoin="round">
<path d="M43,311.5 C44.7,310.4 50,307 53.2,305 C56.5,303 59.4,301.4 62.5,299.7 C65.6,298 68.8,296.4 72,295 C75.2,293.6 78.8,292 82,291 C85.2,290 88,289.5 91,289 C94,288.5 96.6,288.2 99.7,287.8 C102.8,287.4 106.5,286.6 109.4,286.4 C112.3,286.2 114.4,286.2 117.2,286.8 C120,287.4 123.1,288.7 126,289.8 C128.9,290.9 131.8,292.4 134.8,293.7 C137.8,295 141,296.4 144,297.5 C147,298.6 149.9,299.6 153,300.6 C156.1,301.6 158.8,302.8 162.4,303.6 C166,304.4 170.9,304.4 174.8,305.2 C178.7,306 182.1,307 185.7,308.3 C189.3,309.6 192.6,311.8 196.5,312.9 C200.4,314 205.1,314.8 209,314.8 C212.9,314.8 215.9,314.2 219.8,312.9 C223.7,311.5 228.3,309.3 232.2,306.7 C236.1,304.1 240.1,300.1 243.1,297.4 C246.1,294.7 248.1,292.5 249.9,290.6 C251.7,288.7 252.8,287.1 254,285.8 C255.2,284.5 256.5,283.5 257,283" stroke="#1c1ca4" stroke-width="1.3"/>
<path d="M43,336.6 C44.5,336 48.8,334.8 52,333.2 C55.2,331.6 59.2,329 62.5,326.9 C65.8,324.8 68.8,322.6 72,320.5 C75.2,318.4 78.8,316.3 82,314.2 C85.2,312.1 88,309.8 91,307.6 C94,305.5 97.3,303.3 99.7,301.3 C102.1,299.3 103.5,297.7 105.5,295.8 C107.5,293.9 109.5,291.6 111.4,289.8 C113.3,288 115,286.4 117,284.8 C119,283.2 119.9,283 123.1,280 C126.3,277 132.2,270.6 136.1,266.9 C139.9,263.2 143.4,260 146.2,257.6 C149,255.2 150.9,253.5 153,252.5 C155.1,251.5 156.8,251.5 158.5,251.4 C160.2,251.3 161.6,251.4 163,251.7 C164.4,252 164.8,251.7 166.9,253.4 C169,255.1 172.9,258.2 175.4,261.9 C177.9,265.6 180.2,270.9 182.2,275.4 C184.2,279.9 185.8,285.2 187.2,288.9 C188.5,292.6 188.8,293.4 190.3,297.4 C191.9,301.4 194.2,307.7 196.5,312.9 C198.8,318.1 201.2,324 204.3,328.4 C207.4,332.8 211.6,336.1 215.2,339.3 C218.8,342.5 222.5,345.1 225.9,347.8 C229.3,350.5 232.3,353.3 235.6,355.6 C238.8,357.9 242.8,360.4 245.4,361.5 C248,362.6 249.3,362.7 251.2,362.4 C253.1,362.1 256,360 257,359.5" stroke="#ff1010" stroke-width="1.3"/>
<path d="M43,363 C44.6,361.7 49.5,358 52.8,355.4 C56,352.8 59.2,350 62.5,347.4 C65.8,344.8 69,342.4 72.3,340 C75.5,337.6 78.8,335.1 82,332.7 C85.2,330.3 88.5,327.9 91.8,325.6 C95.1,323.3 98.7,320.9 101.6,319 C104.5,317.1 106.8,315.9 109.4,314.3 C112,312.7 114.8,310.9 117.2,309.3 C119.6,307.7 121.7,306.1 124,304.5 C126.3,302.9 128.2,301.5 130.9,299.5 C133.6,297.5 136.6,295.3 140,292.5 C143.4,289.7 147.5,285.9 151.3,282.9 C155.1,279.9 159.4,276 162.6,274.4 C165.8,272.8 167.9,273.2 170.5,273.3 C173.1,273.4 175.6,274 178.4,275 C181.2,276 184.2,277.7 187.4,279.5 C190.6,281.3 194.2,283.9 197.6,285.7 C201,287.5 205,289.1 207.7,290.2 C210.4,291.2 212,291.2 214,292 C216,292.8 217.2,293.3 219.5,295 C221.8,296.7 225,299.4 227.6,302.1 C230.2,304.8 232.7,308 235.3,311.4 C237.9,314.8 240.5,318.6 243.1,322.2 C245.7,325.8 248.6,329.9 250.9,333.1 C253.2,336.3 256,340.1 257,341.5" stroke="#10e010" stroke-width="1.3"/>
<path d="M43,344 C44.5,343.3 49,341.2 52.3,339.8 C55.5,338.4 59.4,336.7 62.5,335.6 C65.6,334.5 68.1,333.9 71,333.2 C73.9,332.5 76.9,332 80.1,331.7 C83.3,331.4 86.4,331.4 90,331.3 C93.6,331.2 98.3,330.9 101.6,331.1 C104.9,331.4 107,331.9 110,332.8 C113,333.7 116.5,335.2 119.8,336.7 C123,338.2 126.9,340.1 129.5,341.6 C132.1,343.1 133.1,343.7 135.4,345.5 C137.7,347.3 140.6,349.9 143.2,352.3 C145.8,354.8 148.6,357.6 151,360.2 C153.4,362.8 155.9,365.4 157.9,368 C159.9,370.6 161.4,373.5 163,376 C164.6,378.5 165.3,379.6 167.3,382.9 C169.3,386.2 172.2,392 175.1,395.6 C178,399.2 181.7,401.6 184.9,404.4 C188.2,407.2 191.7,411.3 194.6,412.6 C197.5,413.9 199.5,411.7 202.4,412.2 C205.3,412.7 208.9,415.5 212.2,415.7 C215.5,415.9 218.8,413.7 222,413.2 C225.2,412.7 228.4,414.1 231.7,412.6 C234.9,411.1 238.6,407.4 241.5,404.4 C244.4,401.4 247.3,397.5 249.3,394.6 C251.3,391.7 252.2,389.8 253.5,387 C254.8,384.2 256.4,379.5 257,378" stroke="#000" stroke-width="2.5"/>
</g>
<rect x="256.3" y="271.7" width="24.5" height="157.3" fill="url(#hatch)"/>
<g fill="none" stroke="#2a2a2a" stroke-width="1.1">
<path d="M43.5,28.5 H357.5 V429 H43.5 Z M43.5,228.4 H357.5"/>
<path d="M394.5,28.5 H699.2 V429 H394.5 Z M394.5,161.1 H699.2 M394.5,294.9 H699.2"/>
</g>
<line x1="189" y1="85.5" x2="180.6" y2="98.2" stroke="#111" stroke-width="0.75"/><path d="M178.3,101.7 L179.4,96.2 L182.9,98.5 Z" fill="#111"/>
<line x1="211.5" y1="85.5" x2="211.5" y2="114.3" stroke="#111" stroke-width="0.75"/><path d="M211.5,118.5 L209.4,113.3 L213.6,113.3 Z" fill="#111"/>
<line x1="240.5" y1="81.2" x2="264.3" y2="87.4" stroke="#111" stroke-width="0.75"/><path d="M268.4,88.4 L262.8,89.1 L263.9,85.1 Z" fill="#111"/>
<line x1="115.2" y1="106.5" x2="115.2" y2="101.2" stroke="#111" stroke-width="0.75"/><path d="M115.2,97 L117.3,102.2 L113.1,102.2 Z" fill="#111"/>
<line x1="115.2" y1="121.2" x2="115.2" y2="127.3" stroke="#111" stroke-width="0.75"/><path d="M115.2,131.5 L113.1,126.3 L117.3,126.3 Z" fill="#111"/>
<ellipse cx="257.9" cy="155.4" rx="49.3" ry="23.9" transform="rotate(-5.5 257.9 155.4)" fill="none" stroke="#555" stroke-width="1" stroke-dasharray="3.2,2.6"/>
<line x1="268.6" y1="161.5" x2="268.6" y2="152.5" stroke="#888" stroke-width="0.75"/><path d="M268.6,148.3 L270.7,153.5 L266.5,153.5 Z" fill="#111"/>
<line x1="284.6" y1="160.5" x2="284.6" y2="149.1" stroke="#888" stroke-width="0.75"/><path d="M284.6,144.9 L286.7,150.1 L282.5,150.1 Z" fill="#111"/>
<line x1="300.8" y1="161" x2="300.8" y2="152.5" stroke="#888" stroke-width="0.75"/><path d="M300.8,148.3 L302.9,153.5 L298.7,153.5 Z" fill="#111"/>
<line x1="270" y1="160.2" x2="283.5" y2="160.2" stroke="#ff3030" stroke-width="0.8"/><path d="M273,158 L270,160.2 L273,162.4 M280.5,158 L283.5,160.2 L280.5,162.4" stroke="#ff3030" stroke-width="0.8" fill="none"/>
<line x1="286" y1="156.8" x2="299.5" y2="156.8" stroke="#ff3030" stroke-width="0.8"/><path d="M289,154.6 L286,156.8 L289,159 M296.5,154.6 L299.5,156.8 L296.5,159" stroke="#ff3030" stroke-width="0.8" fill="none"/>
<g stroke-width="1.3">
<line x1="99.5" y1="170.6" x2="130" y2="170.6" stroke="#1c1ca4"/>
<line x1="99.5" y1="187" x2="130" y2="187" stroke="#10e010"/>
<line x1="99.5" y1="203.2" x2="130" y2="203.2" stroke="#ff1010"/>
<line x1="98.8" y1="219.4" x2="129.8" y2="219.4" stroke="#000" stroke-width="2.5"/>
</g>
<line x1="104.3" y1="270.3" x2="104.3" y2="279.1" stroke="#111" stroke-width="0.75"/><path d="M104.3,283.3 L102.2,278.1 L106.4,278.1 Z" fill="#111"/>
<line x1="198.2" y1="262.7" x2="189.3" y2="269.2" stroke="#111" stroke-width="0.75"/><path d="M185.9,271.7 L188.9,266.9 L191.3,270.3 Z" fill="#111"/>
<line x1="211.3" y1="262.7" x2="211.3" y2="282" stroke="#111" stroke-width="0.75"/><path d="M211.3,286.2 L209.2,281 L213.4,281 Z" fill="#111"/>
<line x1="149.6" y1="332.3" x2="137.5" y2="336.7" stroke="#111" stroke-width="0.75"/><path d="M133.6,338.2 L137.8,334.4 L139.2,338.4 Z" fill="#111"/>
<line x1="613" y1="78.4" x2="608.1" y2="82.2" stroke="#111" stroke-width="0.75"/><path d="M605.4,84.4 L607.8,80.2 L610,83 Z" fill="#111"/>
<line x1="485.7" y1="254.3" x2="485.7" y2="262.4" stroke="#111" stroke-width="0.75"/><path d="M485.7,265.9 L483.9,261.4 L487.5,261.4 Z" fill="#111"/>
<line x1="593.1" y1="226.7" x2="582.1" y2="228.7" stroke="#111" stroke-width="0.75"/><path d="M578.7,229.3 L582.8,226.7 L583.4,230.3 Z" fill="#111"/>
<line x1="603.4" y1="236.2" x2="590.4" y2="255.5" stroke="#111" stroke-width="0.75"/><path d="M588.4,258.4 L589.4,253.7 L592.4,255.7 Z" fill="#111"/>
<line x1="671" y1="251.1" x2="676.6" y2="267.3" stroke="#111" stroke-width="0.75"/><path d="M677.8,270.6 L674.6,266.9 L678,265.8 Z" fill="#111"/>
<line x1="434.9" y1="379.9" x2="450.6" y2="390.4" stroke="#111" stroke-width="0.75"/><path d="M453.5,392.3 L448.8,391.3 L450.8,388.3 Z" fill="#111"/>
<line x1="550.9" y1="361.6" x2="538.9" y2="372.5" stroke="#111" stroke-width="0.75"/><path d="M536.3,374.9 L538.4,370.5 L540.8,373.2 Z" fill="#111"/>
<line x1="669.9" y1="366" x2="673" y2="378.8" stroke="#111" stroke-width="0.75"/><path d="M673.8,382.2 L671,378.2 L674.5,377.4 Z" fill="#111"/>
<line x1="432.1" y1="68.8" x2="457.5" y2="68.8" stroke="#000" stroke-width="2"/>
<rect x="433" y="82.3" width="24" height="10.3" fill="#e8b4a0" stroke="#d8a08a" stroke-width="0.5"/>
<line x1="432.1" y1="190.6" x2="457.9" y2="190.6" stroke="#000" stroke-width="2"/>
<rect x="433" y="203.5" width="24" height="11" fill="#96f096" stroke="#70c070" stroke-width="0.5"/>
<line x1="432.1" y1="325.8" x2="457.7" y2="325.8" stroke="#000" stroke-width="2"/>
<rect x="433" y="337.5" width="24" height="10.8" fill="#fa9696" stroke="#e07878" stroke-width="0.5"/>
<g font-family="Liberation Sans, sans-serif" stroke-width="0.12">
<text x="51.74" y="23.50" font-size="12" fill="#1a1a1a" textLength="20.02" lengthAdjust="spacingAndGlyphs" stroke="#1a1a1a">650</text>
<text x="79.47" y="23.50" font-size="12" fill="#1a1a1a" textLength="20.02" lengthAdjust="spacingAndGlyphs" stroke="#1a1a1a">600</text>
<text x="112.24" y="23.50" font-size="12" fill="#1a1a1a" textLength="20.02" lengthAdjust="spacingAndGlyphs" stroke="#1a1a1a">550</text>
<text x="151.57" y="23.50" font-size="12" fill="#1a1a1a" textLength="20.02" lengthAdjust="spacingAndGlyphs" stroke="#1a1a1a">500</text>
<text x="199.63" y="23.50" font-size="12" fill="#1a1a1a" textLength="20.02" lengthAdjust="spacingAndGlyphs" stroke="#1a1a1a">450</text>
<text x="259.71" y="23.50" font-size="12" fill="#1a1a1a" textLength="20.02" lengthAdjust="spacingAndGlyphs" stroke="#1a1a1a">400</text>
<text x="336.95" y="23.50" font-size="12" fill="#1a1a1a" textLength="20.02" lengthAdjust="spacingAndGlyphs" stroke="#1a1a1a">350</text>
<text x="152.80" y="9.50" font-size="12.2" fill="#1a1a1a" textLength="92.19" lengthAdjust="spacingAndGlyphs" stroke="#1a1a1a">Wavelength (nm)</text>
<text x="411.31" y="23.60" font-size="12" fill="#1a1a1a" textLength="20.02" lengthAdjust="spacingAndGlyphs" stroke="#1a1a1a">650</text>
<text x="451.71" y="23.60" font-size="12" fill="#1a1a1a" textLength="20.02" lengthAdjust="spacingAndGlyphs" stroke="#1a1a1a">600</text>
<text x="499.46" y="23.60" font-size="12" fill="#1a1a1a" textLength="20.02" lengthAdjust="spacingAndGlyphs" stroke="#1a1a1a">550</text>
<text x="556.75" y="23.60" font-size="12" fill="#1a1a1a" textLength="20.02" lengthAdjust="spacingAndGlyphs" stroke="#1a1a1a">500</text>
<text x="626.78" y="23.60" font-size="12" fill="#1a1a1a" textLength="20.02" lengthAdjust="spacingAndGlyphs" stroke="#1a1a1a">450</text>
<text x="510.10" y="9.50" font-size="12.2" fill="#1a1a1a" textLength="92.19" lengthAdjust="spacingAndGlyphs" stroke="#1a1a1a">Wavelength (nm)</text>
<text x="19.90" y="49.60" font-size="14" fill="#1a1a1a" textLength="13.72" lengthAdjust="spacingAndGlyphs" stroke="#1a1a1a">10</text><text x="34.30" y="42.60" font-size="8.5" fill="#1a1a1a" textLength="3.88" lengthAdjust="spacingAndGlyphs" stroke="#1a1a1a">5</text>
<text x="19.90" y="101.60" font-size="14" fill="#1a1a1a" textLength="13.72" lengthAdjust="spacingAndGlyphs" stroke="#1a1a1a">10</text><text x="34.30" y="94.60" font-size="8.5" fill="#1a1a1a" textLength="3.88" lengthAdjust="spacingAndGlyphs" stroke="#1a1a1a">4</text>
<text x="19.90" y="153.60" font-size="14" fill="#1a1a1a" textLength="13.72" lengthAdjust="spacingAndGlyphs" stroke="#1a1a1a">10</text><text x="34.30" y="146.60" font-size="8.5" fill="#1a1a1a" textLength="3.88" lengthAdjust="spacingAndGlyphs" stroke="#1a1a1a">3</text>
<text x="19.90" y="205.60" font-size="14" fill="#1a1a1a" textLength="13.72" lengthAdjust="spacingAndGlyphs" stroke="#1a1a1a">10</text><text x="34.30" y="198.60" font-size="8.5" fill="#1a1a1a" textLength="3.88" lengthAdjust="spacingAndGlyphs" stroke="#1a1a1a">2</text>
<text x="19.90" y="248.70" font-size="14" fill="#1a1a1a" textLength="13.72" lengthAdjust="spacingAndGlyphs" stroke="#1a1a1a">10</text><text x="34.30" y="241.70" font-size="8.5" fill="#1a1a1a" textLength="3.88" lengthAdjust="spacingAndGlyphs" stroke="#1a1a1a">6</text>
<text x="19.90" y="298.70" font-size="14" fill="#1a1a1a" textLength="13.72" lengthAdjust="spacingAndGlyphs" stroke="#1a1a1a">10</text><text x="34.30" y="291.70" font-size="8.5" fill="#1a1a1a" textLength="3.88" lengthAdjust="spacingAndGlyphs" stroke="#1a1a1a">5</text>
<text x="19.90" y="348.70" font-size="14" fill="#1a1a1a" textLength="13.72" lengthAdjust="spacingAndGlyphs" stroke="#1a1a1a">10</text><text x="34.30" y="341.70" font-size="8.5" fill="#1a1a1a" textLength="3.88" lengthAdjust="spacingAndGlyphs" stroke="#1a1a1a">4</text>
<text x="19.90" y="398.90" font-size="14" fill="#1a1a1a" textLength="13.72" lengthAdjust="spacingAndGlyphs" stroke="#1a1a1a">10</text><text x="34.30" y="391.90" font-size="8.5" fill="#1a1a1a" textLength="3.88" lengthAdjust="spacingAndGlyphs" stroke="#1a1a1a">3</text>
<text x="34.05" y="443.80" font-size="13.6" fill="#1a1a1a" textLength="18.91" lengthAdjust="spacingAndGlyphs" stroke="#1a1a1a">1.8</text>
<text x="68.94" y="443.80" font-size="13.6" fill="#1a1a1a" textLength="18.91" lengthAdjust="spacingAndGlyphs" stroke="#1a1a1a">2.0</text>
<text x="103.83" y="443.80" font-size="13.6" fill="#1a1a1a" textLength="18.91" lengthAdjust="spacingAndGlyphs" stroke="#1a1a1a">2.2</text>
<text x="138.72" y="443.80" font-size="13.6" fill="#1a1a1a" textLength="18.91" lengthAdjust="spacingAndGlyphs" stroke="#1a1a1a">2.4</text>
<text x="173.61" y="443.80" font-size="13.6" fill="#1a1a1a" textLength="18.91" lengthAdjust="spacingAndGlyphs" stroke="#1a1a1a">2.6</text>
<text x="208.49" y="443.80" font-size="13.6" fill="#1a1a1a" textLength="18.91" lengthAdjust="spacingAndGlyphs" stroke="#1a1a1a">2.8</text>
<text x="243.38" y="443.80" font-size="13.6" fill="#1a1a1a" textLength="18.91" lengthAdjust="spacingAndGlyphs" stroke="#1a1a1a">3.0</text>
<text x="278.27" y="443.80" font-size="13.6" fill="#1a1a1a" textLength="18.91" lengthAdjust="spacingAndGlyphs" stroke="#1a1a1a">3.2</text>
<text x="313.16" y="443.80" font-size="13.6" fill="#1a1a1a" textLength="18.91" lengthAdjust="spacingAndGlyphs" stroke="#1a1a1a">3.4</text>
<text x="348.05" y="443.80" font-size="13.6" fill="#1a1a1a" textLength="18.91" lengthAdjust="spacingAndGlyphs" stroke="#1a1a1a">3.6</text>
<text x="385.05" y="443.80" font-size="13.6" fill="#1a1a1a" textLength="18.91" lengthAdjust="spacingAndGlyphs" stroke="#1a1a1a">1.8</text>
<text x="435.88" y="443.80" font-size="13.6" fill="#1a1a1a" textLength="18.91" lengthAdjust="spacingAndGlyphs" stroke="#1a1a1a">2.0</text>
<text x="486.72" y="443.80" font-size="13.6" fill="#1a1a1a" textLength="18.91" lengthAdjust="spacingAndGlyphs" stroke="#1a1a1a">2.2</text>
<text x="537.55" y="443.80" font-size="13.6" fill="#1a1a1a" textLength="18.91" lengthAdjust="spacingAndGlyphs" stroke="#1a1a1a">2.4</text>
<text x="588.38" y="443.80" font-size="13.6" fill="#1a1a1a" textLength="18.91" lengthAdjust="spacingAndGlyphs" stroke="#1a1a1a">2.6</text>
<text x="639.22" y="443.80" font-size="13.6" fill="#1a1a1a" textLength="18.91" lengthAdjust="spacingAndGlyphs" stroke="#1a1a1a">2.8</text>
<text x="690.05" y="443.80" font-size="13.6" fill="#1a1a1a" textLength="18.91" lengthAdjust="spacingAndGlyphs" stroke="#1a1a1a">3.0</text>
<text x="165.10" y="457.40" font-size="13.8" fill="#1a1a1a" textLength="69.88" lengthAdjust="spacingAndGlyphs" stroke="#1a1a1a">Energy (eV)</text>
<text x="511.60" y="457.40" font-size="13.8" fill="#1a1a1a" textLength="69.88" lengthAdjust="spacingAndGlyphs" stroke="#1a1a1a">Energy (eV)</text>
<text x="-282.40" y="10" font-size="13.2" fill="#1a1a1a" stroke="#1a1a1a" textLength="135.19" lengthAdjust="spacingAndGlyphs" transform="rotate(-90)">PL Intensity (arb. units)</text>
<text x="380.60" y="49.90" font-size="14" fill="#1a1a1a" textLength="7.79" lengthAdjust="spacingAndGlyphs" stroke="#1a1a1a">1</text>
<text x="382.90" y="166.20" font-size="14" fill="#1a1a1a" textLength="7.39" lengthAdjust="spacingAndGlyphs" stroke="#1a1a1a">0</text>
<text x="364.20" y="183.90" font-size="13.8" fill="#1a1a1a" textLength="25.71" lengthAdjust="spacingAndGlyphs" stroke="#1a1a1a">0.05</text>
<text x="364.10" y="299.60" font-size="13.8" fill="#1a1a1a" textLength="25.81" lengthAdjust="spacingAndGlyphs" stroke="#1a1a1a">0.00</text>
<text x="364.10" y="316.70" font-size="13.8" fill="#1a1a1a" textLength="24.31" lengthAdjust="spacingAndGlyphs" stroke="#1a1a1a">0.01</text>
<text x="364.10" y="433.20" font-size="13.8" fill="#1a1a1a" textLength="25.81" lengthAdjust="spacingAndGlyphs" stroke="#1a1a1a">0.00</text>
<text x="53.10" y="46.50" font-size="15.3" fill="#1a1a1a" textLength="17.90" lengthAdjust="spacingAndGlyphs" stroke="#1a1a1a">(a)</text>
<text x="91.20" y="42.90" font-size="11.4" fill="#1a1a1a" textLength="34.72" lengthAdjust="spacingAndGlyphs" stroke="#1a1a1a">T=77 K</text>
<text x="91.20" y="58.50" font-size="11.4" fill="#1a1a1a" textLength="6.00" lengthAdjust="spacingAndGlyphs" stroke="#1a1a1a">λ</text>
<text x="97.60" y="52.70" font-size="6.5" fill="#1a1a1a" textLength="9.61" lengthAdjust="spacingAndGlyphs" stroke="#1a1a1a">exc</text>
<text x="107.70" y="58.50" font-size="11.4" fill="#1a1a1a" textLength="23.38" lengthAdjust="spacingAndGlyphs" stroke="#1a1a1a">=325</text>
<text x="134.30" y="58.50" font-size="11.4" fill="#1a1a1a" textLength="14.69" lengthAdjust="spacingAndGlyphs" stroke="#1a1a1a">nm</text>
<text x="91.70" y="73.60" font-size="11.4" fill="#1a1a1a" textLength="6.30" lengthAdjust="spacingAndGlyphs" stroke="#1a1a1a">P</text>
<text x="98.40" y="67.80" font-size="6.5" fill="#1a1a1a" textLength="9.31" lengthAdjust="spacingAndGlyphs" stroke="#1a1a1a">exc</text>
<text x="108.60" y="73.60" font-size="11.4" fill="#1a1a1a" textLength="21.10" lengthAdjust="spacingAndGlyphs" stroke="#1a1a1a">=0.3</text>
<text x="134.70" y="73.60" font-size="11.4" fill="#1a1a1a" textLength="17.01" lengthAdjust="spacingAndGlyphs" stroke="#1a1a1a">mW</text>
<text x="182.50" y="68.60" font-size="11.4" fill="#1a1a1a" textLength="54.22" lengthAdjust="spacingAndGlyphs" stroke="#1a1a1a">QW-related</text>
<text x="188.40" y="81.60" font-size="11.4" fill="#1a1a1a" textLength="43.80" lengthAdjust="spacingAndGlyphs" stroke="#1a1a1a">PL bands</text>
<text x="108.10" y="118.70" font-size="12" fill="#1a1a1a" textLength="13.88" lengthAdjust="spacingAndGlyphs" stroke="#1a1a1a">YL</text>
<text x="323.80" y="77.80" font-size="11.2" fill="#1a1a1a" textLength="23.08" lengthAdjust="spacingAndGlyphs" stroke="#1a1a1a">GaN</text>
<text x="223.10" y="168.90" font-size="13" fill="#1a1a1a" textLength="26.58" lengthAdjust="spacingAndGlyphs" stroke="#1a1a1a">DAP</text>
<text x="259.00" y="171.40" font-size="9" fill="#ff2020" textLength="30.52" lengthAdjust="spacingAndGlyphs" stroke="#ff2020">91 meV</text>
<text x="67.70" y="175.00" font-size="12.5" fill="#1a1a1a" textLength="27.68" lengthAdjust="spacingAndGlyphs" stroke="#1a1a1a">NRs:</text>
<text x="133.30" y="175.20" font-size="12.5" fill="#1a1a1a" textLength="14.39" lengthAdjust="spacingAndGlyphs" stroke="#1a1a1a">A1</text>
<text x="133.60" y="191.20" font-size="12.5" fill="#1a1a1a" textLength="14.09" lengthAdjust="spacingAndGlyphs" stroke="#1a1a1a">B1</text>
<text x="133.30" y="207.40" font-size="12.5" fill="#1a1a1a" textLength="14.38" lengthAdjust="spacingAndGlyphs" stroke="#1a1a1a">C1</text>
<text x="133.35" y="223.40" font-size="12.5" fill="#1a1a1a" textLength="51.84" lengthAdjust="spacingAndGlyphs" stroke="#1a1a1a">w/o QWs</text>
<text x="52.10" y="246.80" font-size="15.3" fill="#1a1a1a" textLength="18.10" lengthAdjust="spacingAndGlyphs" stroke="#1a1a1a">(b)</text>
<text x="98.10" y="265.90" font-size="12" fill="#1a1a1a" textLength="13.88" lengthAdjust="spacingAndGlyphs" stroke="#1a1a1a">YL</text>
<text x="183.80" y="246.70" font-size="11.4" fill="#1a1a1a" textLength="52.02" lengthAdjust="spacingAndGlyphs" stroke="#1a1a1a">QW-related</text>
<text x="189.30" y="259.80" font-size="11.4" fill="#1a1a1a" textLength="42.30" lengthAdjust="spacingAndGlyphs" stroke="#1a1a1a">PL bands</text>
<text x="153.10" y="333.30" font-size="12" fill="#1a1a1a" textLength="13.78" lengthAdjust="spacingAndGlyphs" stroke="#1a1a1a">YL</text>
<text x="284.60" y="241.40" font-size="11.4" fill="#1a1a1a" textLength="35.02" lengthAdjust="spacingAndGlyphs" stroke="#1a1a1a">T=77 K</text>
<text x="284.60" y="257.20" font-size="11.4" fill="#1a1a1a" textLength="5.60" lengthAdjust="spacingAndGlyphs" stroke="#1a1a1a">λ</text>
<text x="290.80" y="251.80" font-size="6.5" fill="#1a1a1a" textLength="9.61" lengthAdjust="spacingAndGlyphs" stroke="#1a1a1a">exc</text>
<text x="301.00" y="257.20" font-size="11.4" fill="#1a1a1a" textLength="24.18" lengthAdjust="spacingAndGlyphs" stroke="#1a1a1a">=377</text>
<text x="328.30" y="257.20" font-size="11.4" fill="#1a1a1a" textLength="14.29" lengthAdjust="spacingAndGlyphs" stroke="#1a1a1a">nm</text>
<text x="284.70" y="272.40" font-size="11.4" fill="#1a1a1a" textLength="6.30" lengthAdjust="spacingAndGlyphs" stroke="#1a1a1a">P</text>
<text x="291.30" y="267.00" font-size="6.5" fill="#1a1a1a" textLength="9.11" lengthAdjust="spacingAndGlyphs" stroke="#1a1a1a">exc</text>
<text x="301.60" y="272.40" font-size="11.4" fill="#1a1a1a" textLength="17.99" lengthAdjust="spacingAndGlyphs" stroke="#1a1a1a">=15</text>
<text x="323.40" y="272.40" font-size="11.4" fill="#1a1a1a" textLength="18.61" lengthAdjust="spacingAndGlyphs" stroke="#1a1a1a">mW</text>
<text x="316.50" y="-263.7" font-size="14.5" fill="#1a1a1a" stroke="#1a1a1a" textLength="69.99" lengthAdjust="spacingAndGlyphs" transform="rotate(90)">optical filter</text>
<text x="401.70" y="46.80" font-size="15.5" fill="#1a1a1a" textLength="17.22" lengthAdjust="spacingAndGlyphs" stroke="#1a1a1a">(c)</text>
<text x="433.40" y="57.30" font-size="11.4" fill="#1a1a1a" textLength="41.31" lengthAdjust="spacingAndGlyphs" stroke="#1a1a1a">T=300 K</text>
<text x="460.80" y="72.80" font-size="11.4" fill="#1a1a1a" textLength="5.90" lengthAdjust="spacingAndGlyphs" stroke="#1a1a1a">λ</text><text x="467.10" y="76.50" font-size="7.6" fill="#1a1a1a" textLength="11.98" lengthAdjust="spacingAndGlyphs" stroke="#1a1a1a">exc</text><text x="479.50" y="72.80" font-size="11.4" fill="#1a1a1a" textLength="23.88" lengthAdjust="spacingAndGlyphs" stroke="#1a1a1a">=405</text><text x="506.30" y="72.80" font-size="11.4" fill="#1a1a1a" textLength="14.29" lengthAdjust="spacingAndGlyphs" stroke="#1a1a1a">nm</text>
<text x="460.80" y="90.40" font-size="11.4" fill="#1a1a1a" textLength="5.90" lengthAdjust="spacingAndGlyphs" stroke="#1a1a1a">λ</text><text x="467.10" y="94.10" font-size="7.6" fill="#1a1a1a" textLength="11.98" lengthAdjust="spacingAndGlyphs" stroke="#1a1a1a">exc</text><text x="479.50" y="90.40" font-size="11.4" fill="#1a1a1a" textLength="23.88" lengthAdjust="spacingAndGlyphs" stroke="#1a1a1a">=325</text><text x="506.30" y="90.40" font-size="11.4" fill="#1a1a1a" textLength="14.29" lengthAdjust="spacingAndGlyphs" stroke="#1a1a1a">nm</text>
<text x="646.00" y="49.20" font-size="12.8" fill="#1a1a1a" textLength="44.91" lengthAdjust="spacingAndGlyphs" stroke="#1a1a1a">NRs C1</text>
<text x="612.50" y="74.00" font-size="11.4" fill="#1a1a1a" textLength="58.12" lengthAdjust="spacingAndGlyphs" stroke="#1a1a1a">QW-related</text>
<text x="619.80" y="88.10" font-size="11.4" fill="#1a1a1a" textLength="11.79" lengthAdjust="spacingAndGlyphs" stroke="#1a1a1a">PL</text>
<text x="401.70" y="179.70" font-size="15.5" fill="#1a1a1a" textLength="17.89" lengthAdjust="spacingAndGlyphs" stroke="#1a1a1a">(d)</text>
<text x="433.40" y="179.30" font-size="11.4" fill="#1a1a1a" textLength="41.31" lengthAdjust="spacingAndGlyphs" stroke="#1a1a1a">T=300 K</text>
<text x="464.10" y="195.00" font-size="11.4" fill="#1a1a1a" textLength="5.90" lengthAdjust="spacingAndGlyphs" stroke="#1a1a1a">λ</text><text x="470.40" y="198.70" font-size="7.6" fill="#1a1a1a" textLength="11.98" lengthAdjust="spacingAndGlyphs" stroke="#1a1a1a">exc</text><text x="482.80" y="195.00" font-size="11.4" fill="#1a1a1a" textLength="23.88" lengthAdjust="spacingAndGlyphs" stroke="#1a1a1a">=405</text><text x="509.60" y="195.00" font-size="11.4" fill="#1a1a1a" textLength="14.29" lengthAdjust="spacingAndGlyphs" stroke="#1a1a1a">nm</text>
<text x="464.10" y="213.10" font-size="11.4" fill="#1a1a1a" textLength="5.90" lengthAdjust="spacingAndGlyphs" stroke="#1a1a1a">λ</text><text x="470.40" y="216.80" font-size="7.6" fill="#1a1a1a" textLength="11.98" lengthAdjust="spacingAndGlyphs" stroke="#1a1a1a">exc</text><text x="482.80" y="213.10" font-size="11.4" fill="#1a1a1a" textLength="23.88" lengthAdjust="spacingAndGlyphs" stroke="#1a1a1a">=325</text><text x="509.60" y="213.10" font-size="11.4" fill="#1a1a1a" textLength="14.29" lengthAdjust="spacingAndGlyphs" stroke="#1a1a1a">nm</text>
<text x="608.80" y="182.90" font-size="12.8" fill="#1a1a1a" textLength="80.12" lengthAdjust="spacingAndGlyphs" stroke="#1a1a1a">planar QWs B</text>
<text x="595.80" y="220.10" font-size="11.4" fill="#1a1a1a" textLength="57.92" lengthAdjust="spacingAndGlyphs" stroke="#1a1a1a">QW-related</text>
<text x="602.30" y="233.90" font-size="11.4" fill="#1a1a1a" textLength="12.79" lengthAdjust="spacingAndGlyphs" stroke="#1a1a1a">PL</text>
<text x="480.10" y="250.10" font-size="11.8" fill="#1a1a1a" textLength="13.58" lengthAdjust="spacingAndGlyphs" stroke="#1a1a1a">YL</text>
<text x="664.30" y="248.70" font-size="11.4" fill="#1a1a1a" textLength="12.69" lengthAdjust="spacingAndGlyphs" stroke="#1a1a1a">BL</text>
<text x="402.00" y="313.70" font-size="15.5" fill="#1a1a1a" textLength="17.59" lengthAdjust="spacingAndGlyphs" stroke="#1a1a1a">(e)</text>
<text x="433.10" y="312.80" font-size="11.4" fill="#1a1a1a" textLength="41.51" lengthAdjust="spacingAndGlyphs" stroke="#1a1a1a">T=300 K</text>
<text x="464.10" y="328.50" font-size="11.4" fill="#1a1a1a" textLength="5.90" lengthAdjust="spacingAndGlyphs" stroke="#1a1a1a">λ</text><text x="470.40" y="332.20" font-size="7.6" fill="#1a1a1a" textLength="11.98" lengthAdjust="spacingAndGlyphs" stroke="#1a1a1a">exc</text><text x="482.80" y="328.50" font-size="11.4" fill="#1a1a1a" textLength="23.88" lengthAdjust="spacingAndGlyphs" stroke="#1a1a1a">=405</text><text x="509.60" y="328.50" font-size="11.4" fill="#1a1a1a" textLength="14.29" lengthAdjust="spacingAndGlyphs" stroke="#1a1a1a">nm</text>
<text x="464.10" y="346.90" font-size="11.4" fill="#1a1a1a" textLength="5.90" lengthAdjust="spacingAndGlyphs" stroke="#1a1a1a">λ</text><text x="470.40" y="350.60" font-size="7.6" fill="#1a1a1a" textLength="11.98" lengthAdjust="spacingAndGlyphs" stroke="#1a1a1a">exc</text><text x="482.80" y="346.90" font-size="11.4" fill="#1a1a1a" textLength="23.88" lengthAdjust="spacingAndGlyphs" stroke="#1a1a1a">=325</text><text x="509.60" y="346.90" font-size="11.4" fill="#1a1a1a" textLength="14.29" lengthAdjust="spacingAndGlyphs" stroke="#1a1a1a">nm</text>
<text x="608.30" y="313.60" font-size="12.8" fill="#1a1a1a" textLength="80.97" lengthAdjust="spacingAndGlyphs" stroke="#1a1a1a">planar QWs C</text>
<text x="398.40" y="372.90" font-size="11.2" fill="#1a1a1a" textLength="43.52" lengthAdjust="spacingAndGlyphs" stroke="#1a1a1a">QW-rela-</text>
<text x="401.60" y="385.50" font-size="11.2" fill="#1a1a1a" textLength="30.28" lengthAdjust="spacingAndGlyphs" stroke="#1a1a1a">ted PL</text>
<text x="549.90" y="357.90" font-size="11.6" fill="#1a1a1a" textLength="13.09" lengthAdjust="spacingAndGlyphs" stroke="#1a1a1a">YL</text>
<text x="662.10" y="361.90" font-size="11.6" fill="#1a1a1a" textLength="12.79" lengthAdjust="spacingAndGlyphs" stroke="#1a1a1a">BL</text>
</g>
</svg>
</body></html>
